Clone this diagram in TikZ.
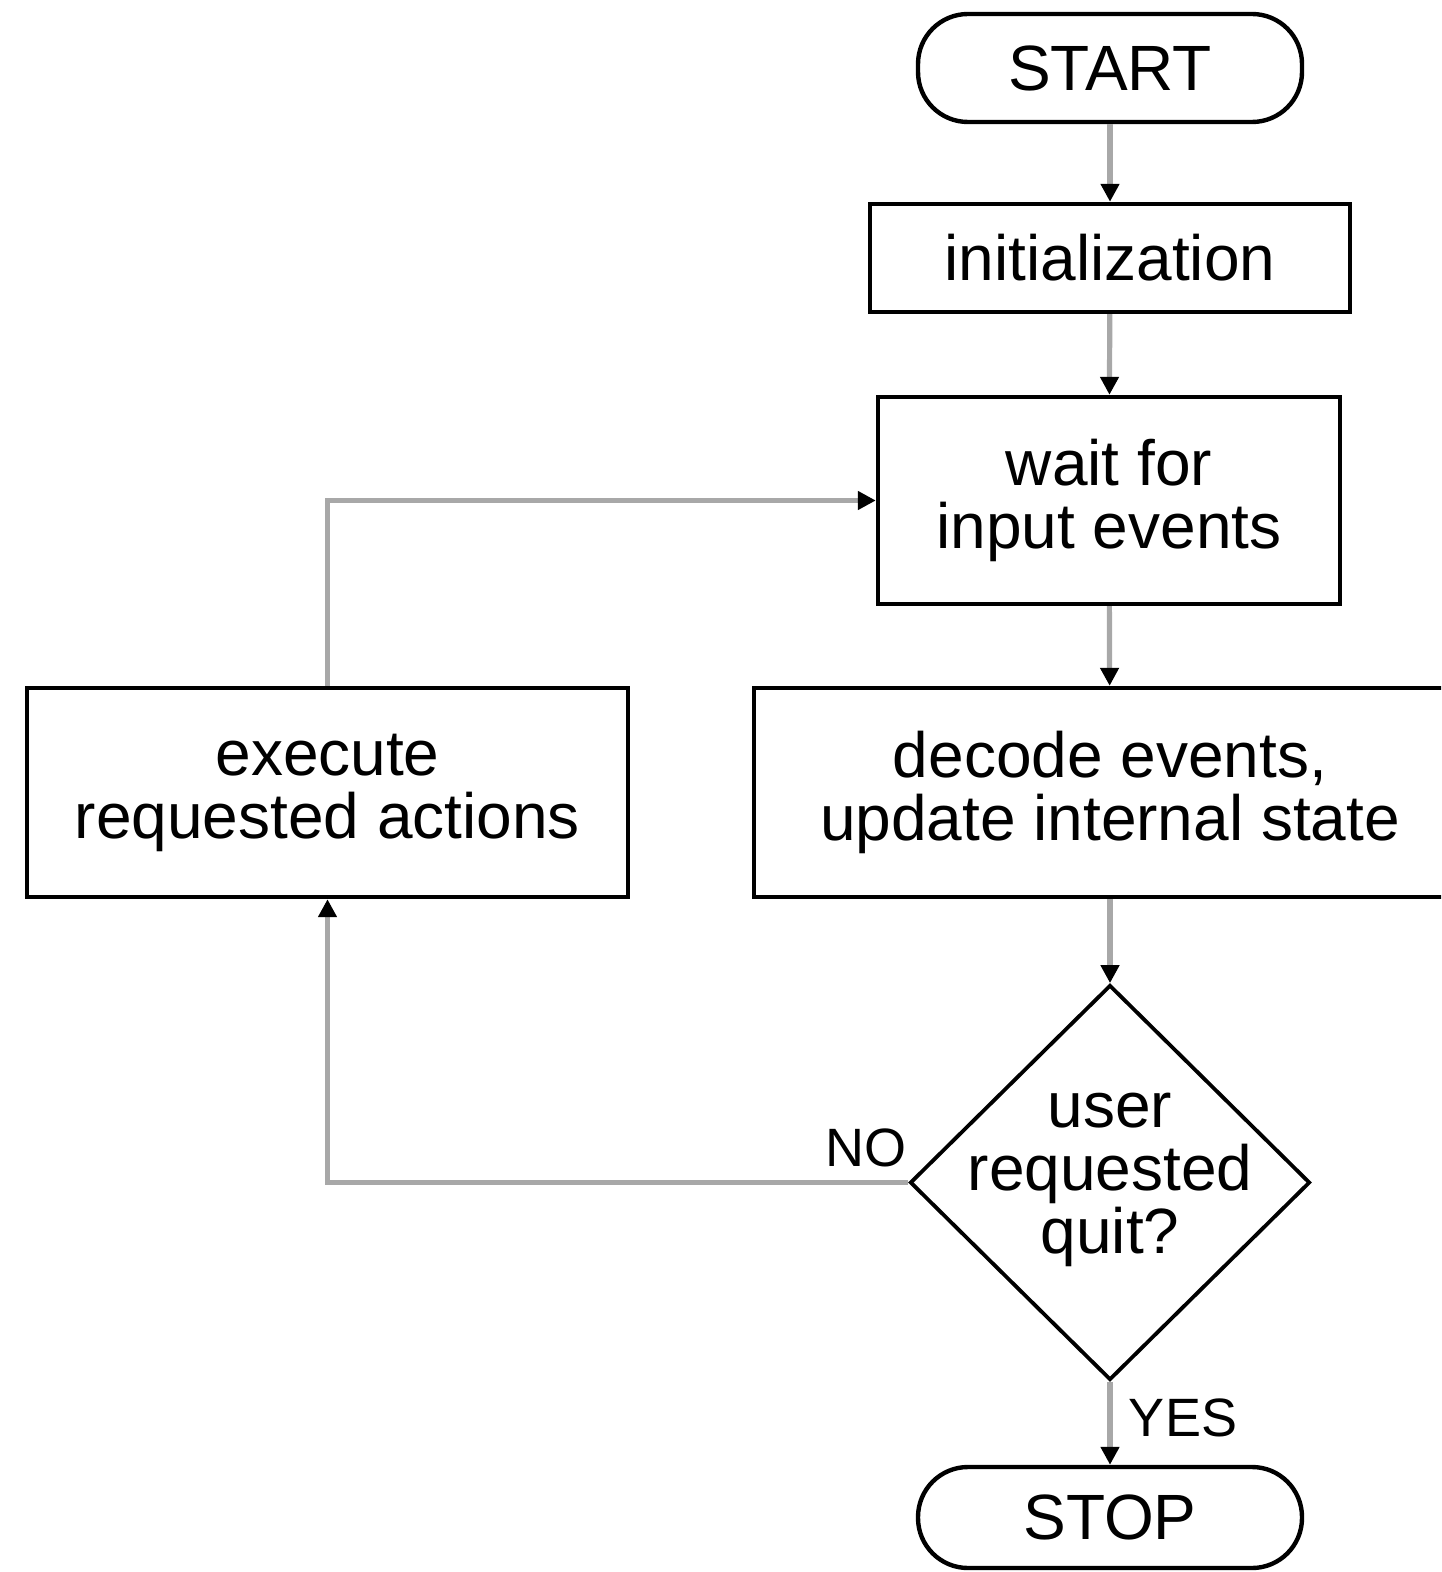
\documentclass[tikz,border=0pt]{standalone}
\usepackage{fontspec}
\setmainfont{Liberation Sans}
\usetikzlibrary{shapes.geometric,arrows.meta}
\definecolor{linkgray}{HTML}{A8A8A8}
\begin{document}
\begin{tikzpicture}[x=0.5pt,y=-0.5pt,
  every node/.style={font=\fontsize{32}{31.5}\selectfont, align=center, inner sep=0pt},
  box/.style={draw=black, line width=2.2pt, fill=white, rectangle},
  term/.style={box, rounded corners=25pt},
  decision/.style={draw=black, line width=1.9pt, fill=white, diamond},
  link/.style={draw=linkgray, line width=2.6pt},
  arr/.style={link, -{Triangle[width=9pt,length=9pt,black]}},
  lbl/.style={font=\fontsize{27}{27}\selectfont}]
  \clip (0,0) rectangle (1441,1572);
  \fill[white] (0,0) rectangle (1441,1572);

  % main column
  \node[term, minimum width=192pt, minimum height=54pt] (start) at (1110,68) {START};
  \node[box, minimum width=240pt, minimum height=54pt] (init) at (1110,258) {initialization};
  \node[box, minimum width=231pt, minimum height=103.5pt] (wait) at (1109,500.5) {wait for\\input events};
  \node[box, minimum width=356pt, minimum height=104.5pt] (decode) at (1110,792.5) {decode events,\\update internal state};
  \node[decision, minimum width=200pt, minimum height=197.5pt] (quit) at (1110,1182.5) {};
  \node (quittext) at (1110,1180) {user\\requested\\quit?};
  \node[term, minimum width=192pt, minimum height=50.5pt] (stop) at (1110,1517.5) {STOP};

  % side branch
  \node[box, minimum width=300.5pt, minimum height=104.5pt] (exec) at (327.5,792.5) {execute\\requested actions};

  % connectors
  \draw[arr] (start) -- (init);
  \draw[arr] (init) -- (wait);
  \draw[arr] (wait) -- (decode);
  \draw[arr] (decode.south -| quit.north) -- (quit.north);
  \draw[arr] (quit.south) -- (stop.north);
  \draw[arr] (quit.west) -| (exec.south);
  \draw[arr] (exec.north) |- (wait.west);

  % branch labels
  \node[lbl] (nolbl) at (866,1148) {NO};
  \node[lbl] (yeslbl) at (1183,1418) {YES};
\end{tikzpicture}
\end{document}
